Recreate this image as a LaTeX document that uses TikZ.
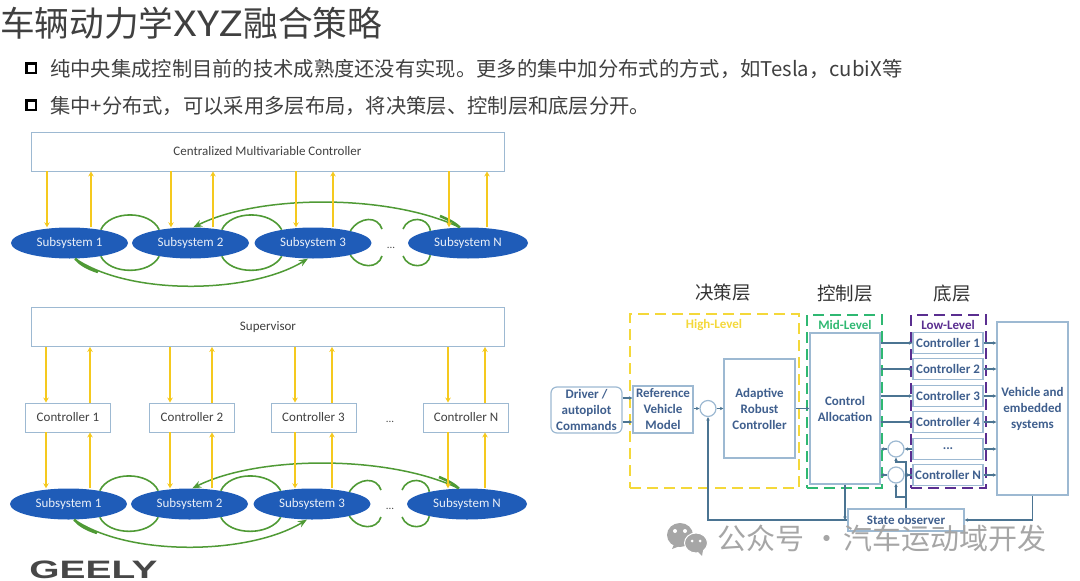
\documentclass[tikz,border=0pt]{standalone}
\usepackage{fontspec}
\usepackage{graphicx}
\setmainfont{Carlito}
\newfontfamily\cjk{Noto Sans CJK SC}
\newfontfamily\logofont{Liberation Sans}
\usetikzlibrary{arrows.meta, shapes.geometric}
\definecolor{arrowyellow}{HTML}{F5C91E}
\definecolor{loopgreen}{HTML}{4F9A35}
\definecolor{subblue}{HTML}{1F5CB8}
\definecolor{framecol}{HTML}{9DB9D2}
\definecolor{linkcol}{HTML}{4B7492}
\definecolor{inkblue}{HTML}{3F5F8E}
\definecolor{highcol}{HTML}{F4D83A}
\definecolor{midcol}{HTML}{2FB872}
\definecolor{lowcol}{HTML}{5A2E90}
\definecolor{markgray}{HTML}{A6A6A6}
\newcommand{\threedots}{...}
\newcommand{\widecomma}{\char"FF0C\relax}
\tikzset{
  wide/.style={draw=framecol, line width=0.9pt, fill=white, font=\fontsize{13}{15}\selectfont, text=black!75, minimum width=473pt, minimum height=39pt, inner sep=0pt},
  ctrlbox/.style={draw=framecol, line width=0.9pt, fill=white, font=\fontsize{13}{15}\selectfont, text=black!75, minimum width=85pt, minimum height=29pt, inner sep=0pt},
  subsys/.style={ellipse, fill=subblue, text=white!90!subblue, font=\fontsize{13}{15}\selectfont, minimum width=117pt, minimum height=31pt, inner sep=0pt},
  yarrow/.style={draw=arrowyellow, line width=1.8pt, -{Stealth[length=5pt,width=5.5pt]}},
  loopline/.style={draw=loopgreen, line width=1.6pt},
  bigloop/.style={draw=loopgreen, line width=1.5pt, -{Stealth[length=9pt,width=7pt]}},
  bigstart/.style={draw=loopgreen, line width=2.6pt},
  block/.style={draw=framecol, line width=1.2pt, fill=white, font=\fontsize{13}{16}\selectfont\bfseries, text=inkblue, align=center, inner sep=0pt},
  sumnode/.style={circle, draw=framecol, line width=1.2pt, fill=white, minimum size=16pt, inner sep=0pt},
  lnk/.style={draw=linkcol, line width=1.1pt, -{Stealth[length=3.5pt,width=3.5pt]}},
  lvl/.style={line width=2.5pt, dash pattern=on 11pt off 6pt},
  lvltxt/.style={font=\fontsize{13}{15}\selectfont\bfseries},
  toptxt/.style={font=\fontsize{20.3}{24}\cjk, text=black!75, anchor=west, inner sep=0pt},
  layertxt/.style={font=\fontsize{18.5}{22}\cjk, text=black!80, inner sep=0pt},
  bulletbox/.style={draw=black, line width=2.5pt, minimum size=9.5pt, inner sep=0pt},
}
\begin{document}
\begin{tikzpicture}[x=1pt, y=-1pt, >=stealth]
  \useasboundingbox (0,0) rectangle (1080,581);
  % heading
  \node[anchor=west, inner sep=0pt, font=\fontsize{34.7}{38}\cjk, text=black!75] (title) at (0,23.5) {车辆动力学\scalebox{1.2}[1]{XYZ}融合策略};
  \node[bulletbox] (bul1) at (31,68) {};
  \node[bulletbox] (bul2) at (31,105) {};
  \node[toptxt] (line1) at (50,69) {纯中央集成控制目前的技术成熟度还没有实现。更多的集中加分布式的方式\widecomma 如Tesla\widecomma cubiX等};
  \node[toptxt] (line2) at (50,106.5) {集中+分布式\widecomma 可以采用多层布局\widecomma 将决策层、控制层和底层分开。};

  % left: the two subsystem rows
  \foreach \p/\dx/\dy in {a/0/0, b/-1/261} {
    \begin{scope}[shift={(\dx,\dy)}]
      \node[subsys] (\p1) at (69.5,243) {Subsystem 1};
      \node[subsys] (\p2) at (190.5,243) {Subsystem 2};
      \node[subsys] (\p3) at (313,243) {Subsystem 3};
      \node[subsys, minimum width=120pt] (\p4) at (468,243) {Subsystem N};
      \node[font=\fontsize{11}{13}\selectfont, text=black!70] (\p dots) at (391,248) {\threedots};
      \draw[loopline] (\p1.23) .. controls (110,210) and (150,210) .. (\p2.157);
      \draw[loopline] (\p1.-23) .. controls (110,275) and (150,275) .. (\p2.-157);
      \draw[loopline] (\p2.23) .. controls (231,210) and (271,210) .. (\p3.157);
      \draw[loopline] (\p2.-23) .. controls (231,275) and (271,275) .. (\p3.-157);
      \draw[loopline] (\p3.18) .. controls (360,216) and (378,216) .. (382,229);
      \draw[loopline] (\p3.-18) .. controls (360,269) and (378,269) .. (382,256);
      \draw[loopline] (\p4.162) .. controls (428,216) and (408,216) .. (403,229);
      \draw[loopline] (\p4.-162) .. controls (428,269) and (408,269) .. (403,256);
      \draw[bigloop] (\p1.-70) .. controls (130,296) and (250,294) .. (\p3.-108);
      \draw[bigstart] (\p1.-70) .. controls (80,264) and (86,268) .. (98,272);
      \draw[bigloop] (\p4.118) .. controls (390,194) and (260,194) .. (\p2.80);
      \draw[bigstart] (\p4.118) .. controls (456,224) and (450,220) .. (440,216);
    \end{scope}
  }
  \node[font=\fontsize{11}{13}\selectfont, text=black!70] (cdots) at (390,422) {\threedots};
  \node[ctrlbox] (c1) at (68,417.5) {Controller 1};
  \node[ctrlbox] (c2) at (192,417.5) {Controller 2};
  \node[ctrlbox] (c3) at (313.5,417.5) {Controller 3};
  \node[ctrlbox] (c4) at (466,417.5) {Controller N};
  \node[wide] (sup) at (268,327) {Supervisor};
  \node[wide] (cmc) at (267.5,151.5) {Centralized Multivariable Controller};
  \foreach \xu/\xd/\n in {91/47/1, 213/171/2, 333/296/3, 487/449/4} {
    \draw[yarrow] (\xu,0 |- a\n.north) -- (\xu,0 |- cmc.south);
    \draw[yarrow] (\xd,0 |- cmc.south) -- (\xd,0 |- a\n.north);
  }
  \foreach \xd/\xu/\n in {46/90/1, 170/212/2, 295/332/3, 448/485/4} {
    \draw[yarrow] (\xd,0 |- sup.south) -- (\xd,0 |- c\n.north);
    \draw[yarrow] (\xu,0 |- c\n.north) -- (\xu,0 |- sup.south);
    \draw[yarrow] (\xd,0 |- c\n.south) -- (\xd,0 |- b\n.north);
    \draw[yarrow] (\xu,0 |- b\n.north) -- (\xu,0 |- c\n.south);
  }
  \node[font=\fontsize{24}{24}\logofont\bfseries, text=black!72, xscale=1.62, yscale=1.05, inner sep=0pt] (geely) at (93.5,569.5) {GEELY};

  % right: layered structure
  \node[layertxt] (hightitle) at (723,293) {决策层};
  \node[layertxt] (midtitle) at (845,294) {控制层};
  \node[layertxt] (lowtitle) at (952,294) {底层};
  \node[draw=highcol, lvl, minimum width=169pt, minimum height=174pt, inner sep=0pt] (high) at (714.5,401) {};
  \node[draw=midcol, lvl, minimum width=75pt, minimum height=173pt, inner sep=0pt] (mid) at (844.5,401.5) {};
  \node[draw=lowcol, lvl, minimum width=75pt, minimum height=173pt, inner sep=0pt] (low) at (948.5,401.5) {};
  \node[lvltxt, text=highcol] (hightxt) at (714,325) {High-Level};
  \node[lvltxt, text=midcol] (midtxt) at (845,325) {Mid-Level};
  \node[lvltxt, text=lowcol] (lowtxt) at (948,325) {Low-Level};
  \node[block, rounded corners=6pt, minimum width=71pt, minimum height=46pt] (drv) at (586.5,410) {Driver /\\autopilot\\Commands};
  \node[block, minimum width=60pt, minimum height=47pt] (ref) at (663,409.5) {Reference\\Vehicle\\Model};
  \node[sumnode] (sumr) at (708,408.5) {};
  \node[block, minimum width=71pt, minimum height=99pt] (ada) at (759.5,408.5) {Adaptive\\Robust\\Controller};
  \node[block, minimum width=70pt, minimum height=151pt] (ca) at (845,408.5) {Control\\Allocation};
  \node[block, minimum width=71pt, minimum height=173pt] (veh) at (1032.5,408.5) {Vehicle and\\embedded\\systems};
  \node[block, minimum width=116pt, minimum height=22pt] (obs) at (906,520) {State observer};
  \foreach \y/\n/\t in {343/1/Controller 1, 369/2/Controller 2, 396/3/Controller 3, 422/4/Controller 4, 449/5/\threedots, 475/6/Controller N} {
    \node[block, minimum width=70pt, minimum height=21pt] (ctl\n) at (948,\y) {\t};
    \draw[lnk] (ctl\n.east) -- (veh.west |- ctl\n.east);
  }
  \foreach \n in {1,2,3,4} {
    \draw[lnk] (ca.east |- ctl\n.west) -- (ctl\n.west);
  }
  \node[sumnode] (sum1) at (896,449) {};
  \node[sumnode] (sum2) at (896,475) {};
  \draw[lnk] (ctl5.west) -- (sum1.east);
  \draw[lnk] (sum1.west) -- (ca.east |- sum1.west);
  \draw[lnk] (ctl6.west) -- (sum2.east);
  \draw[lnk] (sum2.west) -- (ca.east |- sum2.west);
  \draw[lnk] ([yshift=12pt]drv.east) -- ([yshift=12pt]drv.east -| ref.west);
  \draw[lnk] ([yshift=-12pt]drv.east) -- ([yshift=-12pt]drv.east -| ref.west);
  \draw[lnk] (ref.east |- sumr.west) -- (sumr.west);
  \draw[lnk] (sumr.east) -- (ada.west);
  \draw[lnk] (ada.east) -- (ca.west);
  \draw[lnk] (obs.west) -| (sumr.south);
  \draw[lnk] (ca.south) -- (ca.south |- obs.west);
  \draw[lnk] (veh.south) |- (obs.east);
  \coordinate (bend1) at (896,462);
  \coordinate (bend2) at (896,497);
  \draw[lnk] (obs.north) |- (bend1) -- (sum1.south);
  \draw[lnk] (obs.north) |- (bend2) -- (sum2.south);

  % watermark
  \fill[markgray] (680,535) ellipse (13 and 12);
  \fill[markgray] (672,549) -- (675,542) -- (680,546) -- cycle;
  \fill[markgray, draw=white, line width=1pt] (696,543) ellipse (11.5 and 10);
  \fill[markgray] (702,556) -- (697,551) -- (703,550) -- cycle;
  \fill[white] (675,531) circle (2) (685,531) circle (2) (692,541) circle (1.5) (700,541) circle (1.5);
  \node[anchor=west, inner sep=0pt, font=\fontsize{29}{32}\cjk, text=markgray] (mark) at (717,538) {公众号\hspace{8pt}·\hspace{2pt}汽车运动域开发};
\end{tikzpicture}
\end{document}
